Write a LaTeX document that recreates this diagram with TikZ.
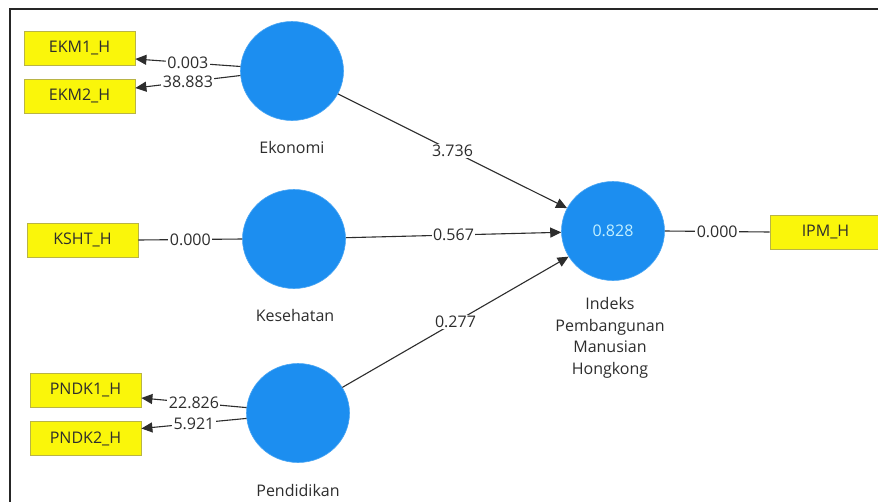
\documentclass[tikz,border=0pt]{standalone}
\usepackage{fontspec}
\setmainfont{Open Sans}
\usetikzlibrary{arrows.meta,shapes.geometric}
\definecolor{lvblue}{RGB}{28,142,240}
\definecolor{indyel}{RGB}{250,246,10}
\definecolor{indedge}{RGB}{185,180,70}
\definecolor{txt}{RGB}{45,45,45}
\definecolor{rsq}{RGB}{195,240,255}
\tikzset{
  latent/.style={ellipse, minimum width=103pt, minimum height=99pt, fill=lvblue, draw=lvblue!80!white, line width=0.6pt, inner sep=0pt},
  indbox/.style={rectangle, minimum width=111pt, minimum height=34pt, fill=indyel, draw=indedge, line width=0.8pt, font=\fontsize{16}{19}\selectfont, text=txt},
  lvname/.style={font=\fontsize{16}{19}\selectfont, text=txt},
  conn/.style={draw=txt, line width=1.1pt},
  arr/.style={conn, -{Triangle[length=11pt,width=10pt]}},
  val/.style={fill=white, inner sep=1.5pt, font=\fontsize{16}{19}\selectfont, text=txt}
}
\begin{document}
\begin{tikzpicture}[x=1pt,y=-1pt]
\useasboundingbox (0,0) rectangle (878,501);
\clip (0,0) rectangle (878,501);
\fill[white] (0,0) rectangle (878,501);
% frame
\draw[black!85, line width=2.2pt] (10,510) -- (10,9) -- (890,9);
% indicator boxes
\node[indbox] (e1) at (79.5,48) {EKM1\_H};
\node[indbox] (e2) at (79.5,96) {EKM2\_H};
\node[indbox] (k) at (82.5,240) {KSHT\_H};
\node[indbox] (p1) at (85.5,390) {PNDK1\_H};
\node[indbox] (p2) at (85.5,438.5) {PNDK2\_H};
\node[indbox] (ih) at (825.5,232) {IPM\_H};
% latent variables
\node[latent] (ek) at (292,71) {};
\node[latent] (ks) at (294,239) {};
\node[latent] (pd) at (298,413) {};
\node[latent, font=\fontsize{16}{19}\selectfont, text=rsq] (ipm) at (613,231) {0.828};
% names
\node[lvname] (ekn) at (292,147) {Ekonomi};
\node[lvname] (ksn) at (295,315) {Kesehatan};
\node[lvname] (pdn) at (298,490) {Pendidikan};
\node[lvname, align=center, anchor=north, font=\fontsize{16}{21.5}\selectfont] (ipmn) at (610,294) {Indeks\\Pembangunan\\Manusian\\Hongkong};
% outer model
\draw[arr] (ek.175) -- node[val, midway] {0.003} ([yshift=-11pt]e1.east);
\draw[arr] (ek.185) -- node[val, midway] {38.883} ([yshift=8pt]e2.east);
\draw[conn] (k.east) -- node[val, midway] {0.000} (ks.west);
\draw[arr] (pd.174) -- node[val, midway] {22.826} ([yshift=-8pt]p1.east);
\draw[arr] (pd.186) -- node[val, midway] {5.921} ([yshift=10pt]p2.east);
\draw[conn] (ipm.east) -- node[val, midway] {0.000} (ih.west);
% inner model
\draw[arr] (ek) -- node[val, midway] {3.736} (ipm);
\draw[arr] (ks) -- node[val, midway] {0.567} (ipm);
\draw[arr] (pd) -- node[val, midway] {0.277} (ipm);
\end{tikzpicture}
\end{document}
